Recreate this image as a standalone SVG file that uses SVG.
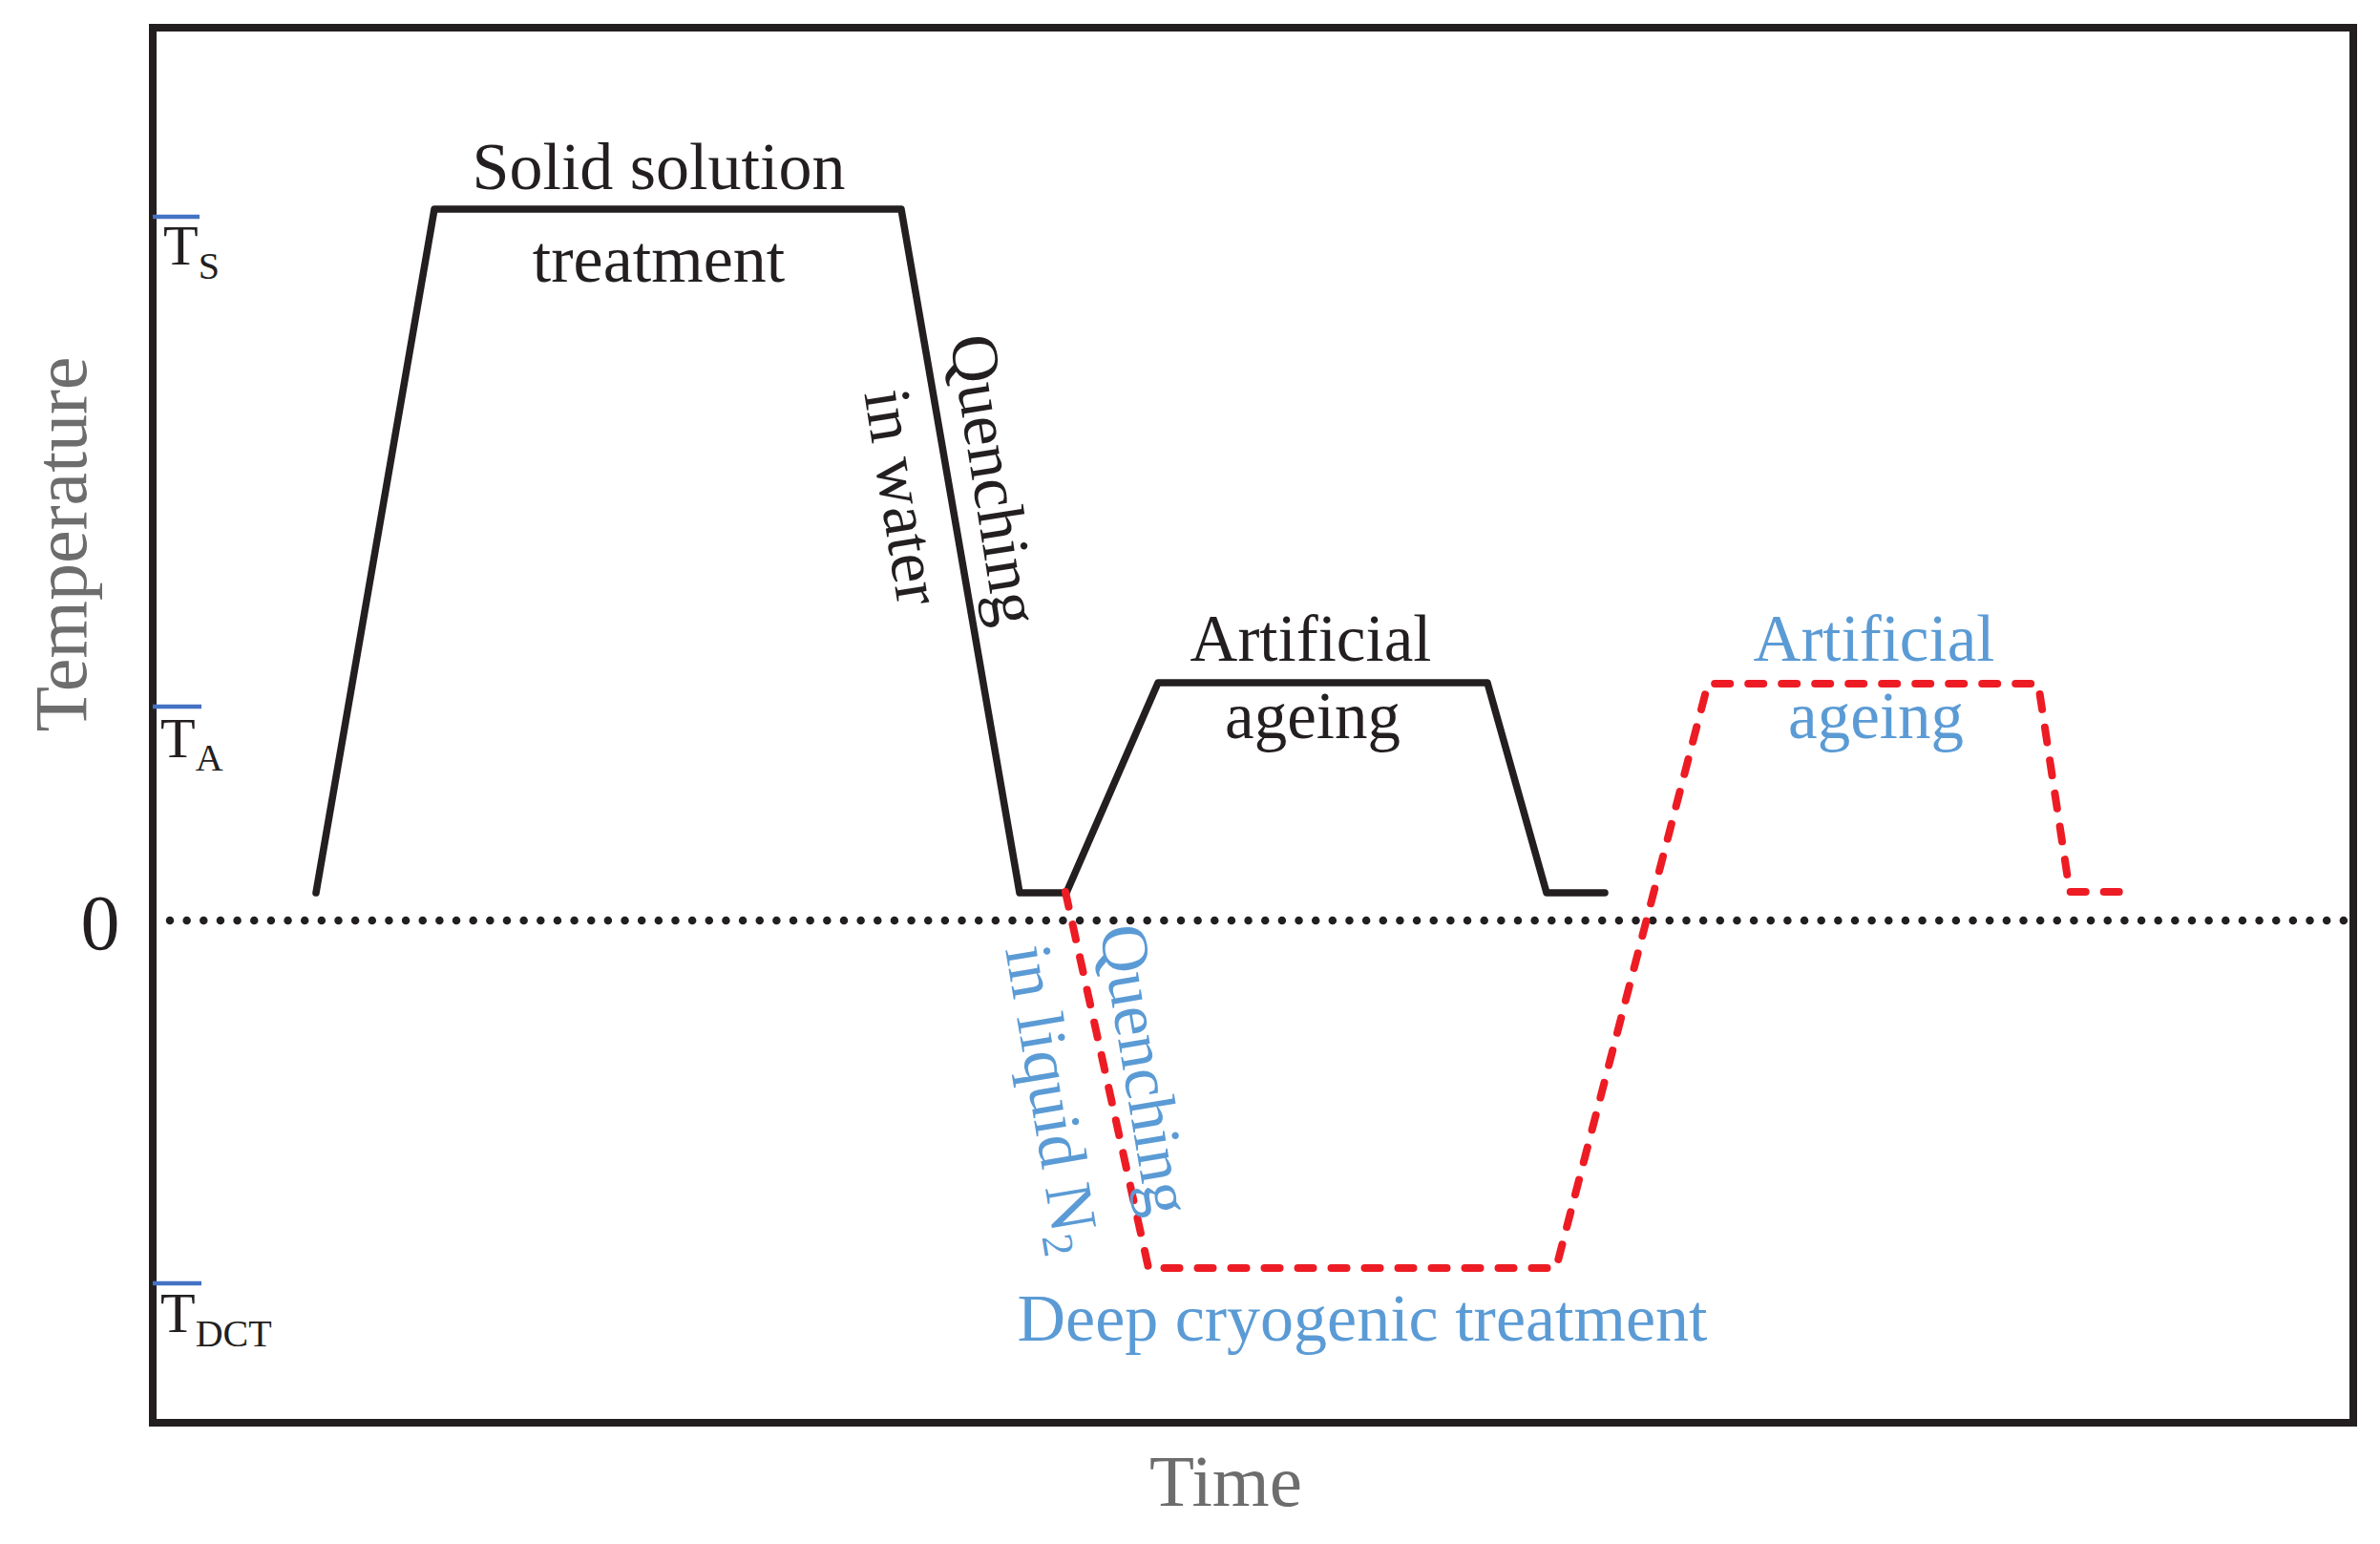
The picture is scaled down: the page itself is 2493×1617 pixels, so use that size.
<svg xmlns="http://www.w3.org/2000/svg" width="2493" height="1617" viewBox="0 0 2493 1617">
<style>
.serif{font-family:"Liberation Serif","Times New Roman",serif;}
.dark{fill:#231f20;}
.blue{fill:#5b9bd5;}
.grey{fill:#6d6d6d;}
.lbl{font-size:70px;}
.curve{fill:none;stroke:#231f20;stroke-width:7.5;stroke-linejoin:round;stroke-linecap:round;}
.dct{fill:none;stroke:#ed1c24;stroke-width:8;stroke-linejoin:round;stroke-linecap:round;stroke-dasharray:16 19;}
.tick{stroke:#4472c4;stroke-width:4.5;}
</style>
<rect width="2493" height="1617" fill="#ffffff"/>
<g id="frame">
<rect x="160" y="29" width="2305" height="1461" fill="none" stroke="#231f20" stroke-width="8"/>
</g>
<g id="zero-line">
<line x1="178" y1="964" x2="2456" y2="964" stroke="#231f20" stroke-width="8.5" stroke-linecap="round" stroke-dasharray="0 17.65"/>
</g>
<g id="axis-labels" class="serif grey">
<text x="1284" y="1577" font-size="77" text-anchor="middle">Time</text>
<text transform="translate(90,570) rotate(-90)" font-size="78" text-anchor="middle">Temperature</text>
</g>
<g id="y-ticks">
<line class="tick" x1="160" y1="227" x2="209" y2="227"/>
<line class="tick" x1="160" y1="740" x2="211" y2="740"/>
<line class="tick" x1="160" y1="1344" x2="211" y2="1344"/>
<text class="serif dark" x="171" y="277" font-size="60">T<tspan font-size="40" dy="15">S</tspan></text>
<text class="serif dark" x="168" y="793" font-size="60">T<tspan font-size="40" dy="14">A</tspan></text>
<text class="serif dark" x="168" y="1395" font-size="60">T<tspan font-size="40" dy="15">DCT</tspan></text>
<text class="serif dark" x="105" y="994" font-size="82" text-anchor="middle">0</text>
</g>
<g id="connectors">
<polyline id="water-route" class="curve" points="331,935 455,219 944,219 1068,935 1117,935 1213,715 1558,715 1620,935 1681,935"/>
<polyline id="dct-route" class="dct" points="1116,934 1203,1328 1630,1328 1789,716 2135,716 2168,934 2220,934"/>
</g>
<g id="solid-solution" class="serif dark lbl" text-anchor="middle">
<text x="690" y="198">Solid solution</text>
<text x="690" y="295">treatment</text>
</g>
<g id="quench-water" class="serif dark lbl" text-anchor="middle">
<text transform="translate(1019,506) rotate(81)">Quenching</text>
<text transform="translate(923,524) rotate(81)">in water</text>
</g>
<g id="ageing-black" class="serif dark" font-size="69" text-anchor="middle">
<text x="1373" y="692">Artificial</text>
<text x="1375" y="773">ageing</text>
</g>
<g id="quench-n2" class="serif blue lbl" text-anchor="middle">
<text transform="translate(1177,1124) rotate(80.5)">Quenching</text>
<text transform="translate(1080,1155) rotate(80.5)">in liquid N<tspan font-size="46" dy="12">2</tspan></text>
</g>
<g id="dct-label" class="serif blue lbl" text-anchor="middle">
<text x="1427" y="1404">Deep cryogenic treatment</text>
</g>
<g id="ageing-blue" class="serif blue" font-size="69" text-anchor="middle">
<text x="1963" y="692">Artificial</text>
<text x="1965" y="773">ageing</text>
</g>
</svg>
